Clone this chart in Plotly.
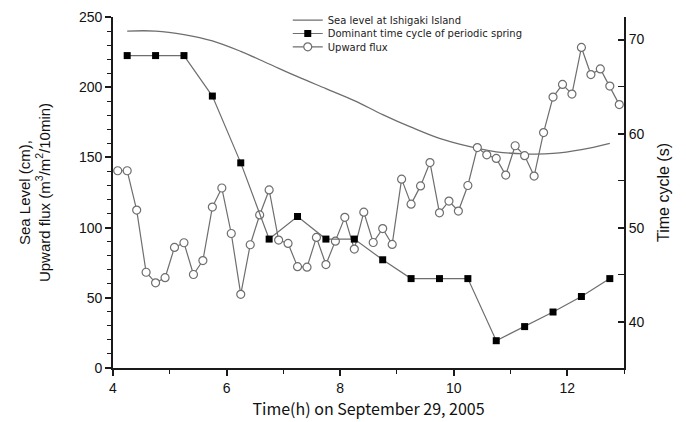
import plotly.graph_objects as go

# Sea level at Ishigaki Island (cm), left axis
sea_time = [4.25, 4.75, 5.25, 5.75, 6.25, 6.75, 7.25, 7.75, 8.25, 8.75,
            9.25, 9.75, 10.25, 10.75, 11.25, 11.75, 12.25, 12.75]
sea_level = [240, 240, 237.5, 233, 225.5, 216.5, 207.5, 199, 190.5, 180.5,
             171.5, 163.5, 158, 154, 152.5, 152.8, 155.5, 160]

# Dominant time cycle of periodic spring (s), right axis
cyc_time = [4.25, 4.75, 5.25, 5.75, 6.25, 6.75, 7.25, 7.75, 8.25, 8.75,
            9.25, 9.75, 10.25, 10.75, 11.25, 11.75, 12.25, 12.75]
cycle = [68.3, 68.3, 68.3, 64.0, 56.9, 48.8, 51.2, 48.8, 48.8, 46.6,
         44.6, 44.6, 44.6, 38.0, 39.5, 41.05, 42.7, 44.6]

# Upward flux (m3/m2/10min), left axis
flux_time = [4.083, 4.25, 4.417, 4.583, 4.75, 4.917, 5.083, 5.25, 5.417, 5.583,
             5.75, 5.917, 6.083, 6.25, 6.417, 6.583, 6.75, 6.917, 7.083, 7.25,
             7.417, 7.583, 7.75, 7.917, 8.083, 8.25, 8.417, 8.583, 8.75, 8.917,
             9.083, 9.25, 9.417, 9.583, 9.75, 9.917, 10.083, 10.25, 10.417, 10.583,
             10.75, 10.917, 11.083, 11.25, 11.417, 11.583, 11.75, 11.917, 12.083, 12.25,
             12.417, 12.583, 12.75, 12.917]
flux = [140.5, 140.5, 112.5, 68.2, 60.7, 64.3, 85.9, 89.2, 66.6, 76.5,
        114.6, 128.2, 95.8, 52.5, 87.8, 109, 126.8, 91.1, 88.7, 72.2,
        71.8, 93, 73.7, 90.3, 107.3, 84.7, 111, 89.4, 99.3, 88,
        134.5, 116.7, 129.7, 146.3, 110.5, 118.9, 111.8, 130, 157, 151.8,
        149.3, 137.4, 158.3, 151.2, 136.7, 167.7, 193, 202, 195.1, 228.3,
        209, 213, 200.8, 187.6]

x_ticks = [4, 6, 8, 10, 12]
left_ticks = [0, 50, 100, 150, 200, 250]
right_ticks = [40, 50, 60, 70]
right_minor = [45, 55, 65]

LINE = "#6e6e6e"
AX = "#1a1a1a"
TICKFONT = dict(family="Liberation Sans, Arial", size=14, color="#111")
LEGFONT = dict(family="DejaVu Sans", size=10, color="#222")

fig = go.Figure()
fig.add_trace(go.Scatter(
    x=sea_time, y=sea_level, mode="lines", name="Sea level at Ishigaki Island",
    line=dict(color=LINE, width=1.3, shape="spline"), yaxis="y",
    legend="legend"))
fig.add_trace(go.Scatter(
    x=cyc_time, y=cycle, mode="lines+markers",
    name="Dominant time cycle of periodic spring",
    line=dict(color=LINE, width=1.2),
    marker=dict(symbol="square", size=7, color="black", line=dict(width=0)),
    yaxis="y2", legend="legend2"))
fig.add_trace(go.Scatter(
    x=flux_time, y=flux, mode="lines+markers", name="Upward flux",
    line=dict(color=LINE, width=1.2),
    marker=dict(symbol="circle", size=8, color="white",
                line=dict(color=LINE, width=1.2)),
    yaxis="y", legend="legend3"))

def leg(y):
    return dict(x=0.342, y=y, xanchor="left", yanchor="middle",
                bgcolor="rgba(0,0,0,0)", itemwidth=30, font=LEGFONT)

# page has an 8px body margin, so the figure is sized to fit the window
fig.update_layout(
    width=678, height=414,
    margin=dict(l=105, r=62, t=9, b=54, autoexpand=False),
    plot_bgcolor="white", paper_bgcolor="white",
    showlegend=True,
    legend=leg(0.991),
    legend2=leg(0.953),
    legend3=leg(0.915),
    xaxis=dict(range=[4, 13], tickvals=x_ticks, ticks="outside", ticklen=6,
               tickwidth=1.5, tickcolor=AX, showline=True, linecolor=AX,
               linewidth=1.8, showgrid=False, zeroline=False, automargin=False,
               ticklabeloverflow="allow",
               minor=dict(dtick=1, tick0=4, ticks="outside", ticklen=4,
                          tickcolor=AX, tickwidth=1.2),
               tickfont=TICKFONT,
               title=dict(text="Time(h) on September 29, 2005",
                          font=dict(family="Noto Sans CJK JP", size=16, color="#111"),
                          standoff=2)),
    yaxis=dict(range=[0, 250], tickvals=left_ticks, ticks="outside", ticklen=6,
               tickwidth=1.5, tickcolor=AX, showline=True, linecolor=AX,
               linewidth=1.8, showgrid=False, zeroline=False, automargin=False,
               ticksuffix=" ", ticklabeloverflow="allow",
               minor=dict(dtick=10, tick0=0, ticks="outside", ticklen=4,
                          tickcolor=AX, tickwidth=1.2),
               tickfont=TICKFONT,
               title=dict(text="Sea Level (cm),<br>Upward flux (m<sup>3</sup>/m<sup>2</sup>/10min)",
                          font=dict(family="Liberation Sans, Arial", size=15, color="#111"),
                          standoff=25)),
    yaxis2=dict(range=[35.1, 72.4], tickvals=right_ticks, overlaying="y",
                side="right", anchor="x", ticks="inside", ticklen=6,
                tickwidth=1.5, tickcolor=AX, showline=True, linecolor=AX,
                linewidth=1.8, showgrid=False, zeroline=False, automargin=False,
                ticklabeloverflow="allow",
                minor=dict(tickvals=right_minor, ticks="inside", ticklen=6,
                           tickcolor=AX, tickwidth=1.2),
                tickfont=TICKFONT,
                title=dict(text="Time cycle (s)",
                           font=dict(family="Liberation Sans, Arial", size=16, color="#111"),
                           standoff=14)),
)

fig.write_html("out.html")
